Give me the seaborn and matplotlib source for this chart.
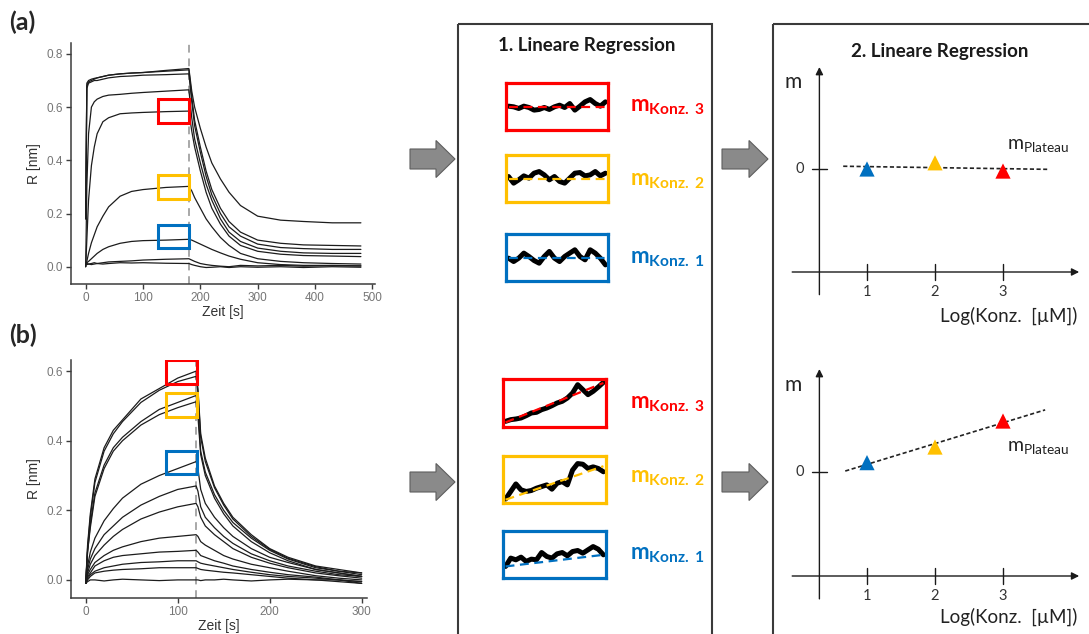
import numpy as np
import pandas as pd
import matplotlib
matplotlib.use("Agg")
import matplotlib.pyplot as plt
from matplotlib import patches
import seaborn as sns

sns.set_theme(style="ticks")
plt.rcParams["font.family"] = ["Lato", "DejaVu Sans"]
plt.rcParams["mathtext.fontset"] = "custom"
plt.rcParams["mathtext.rm"] = "Lato"
plt.rcParams["mathtext.bf"] = "Lato:bold"
plt.rcParams["mathtext.it"] = "Lato:italic"

RED, YEL, BLU = "#FF0000", "#FFC000", "#0070C0"

# ---- (a) sensorgram: association 0-180 s, dissociation 180-480 s
time_a = [0, 2, 5, 10, 15, 20, 30, 40, 60, 80, 100, 140, 180,
          185, 190, 200, 210, 220, 235, 250, 270, 300, 340, 380, 430, 480]
resp_a = [
    [0.18, 0.69, 0.70, 0.705, 0.708, 0.71, 0.715, 0.72, 0.725, 0.728, 0.73, 0.738, 0.745,
     0.66, 0.60, 0.52, 0.45, 0.39, 0.33, 0.28, 0.23, 0.19, 0.175, 0.17, 0.165, 0.165],
    [0.18, 0.68, 0.695, 0.70, 0.705, 0.71, 0.715, 0.72, 0.725, 0.728, 0.73, 0.735, 0.74,
     0.64, 0.55, 0.45, 0.36, 0.29, 0.22, 0.17, 0.13, 0.10, 0.088, 0.082, 0.08, 0.078],
    [0.18, 0.67, 0.69, 0.695, 0.70, 0.70, 0.705, 0.71, 0.715, 0.717, 0.72, 0.722, 0.725,
     0.62, 0.53, 0.43, 0.34, 0.27, 0.20, 0.15, 0.115, 0.085, 0.072, 0.068, 0.065, 0.065],
    [0.0, 0.30, 0.50, 0.60, 0.62, 0.63, 0.64, 0.645, 0.648, 0.652, 0.655, 0.66, 0.665,
     0.56, 0.48, 0.39, 0.31, 0.25, 0.18, 0.13, 0.095, 0.07, 0.058, 0.052, 0.05, 0.05],
    [0.0, 0.10, 0.25, 0.38, 0.45, 0.50, 0.545, 0.56, 0.575, 0.578, 0.58, 0.583, 0.585,
     0.51, 0.45, 0.36, 0.28, 0.22, 0.16, 0.115, 0.08, 0.058, 0.047, 0.042, 0.04, 0.038],
    [0.0, 0.02, 0.05, 0.09, 0.12, 0.15, 0.19, 0.225, 0.265, 0.283, 0.29, 0.298, 0.302,
     0.285, 0.26, 0.22, 0.18, 0.15, 0.11, 0.08, 0.05, 0.03, 0.02, 0.015, 0.012, 0.01],
    [0.01, 0.015, 0.02, 0.03, 0.04, 0.05, 0.065, 0.075, 0.088, 0.095, 0.098, 0.10, 0.103,
     0.10, 0.095, 0.085, 0.075, 0.065, 0.052, 0.04, 0.028, 0.015, 0.008, 0.005, 0.005, 0.003],
    [0.01, 0.012, 0.01, 0.012, 0.015, 0.012, 0.015, 0.018, 0.02, 0.022, 0.025, 0.028, 0.03,
     0.025, 0.02, 0.012, 0.008, 0.005, 0.002, 0.0, 0.005, 0.003, 0.005, 0.002, 0.004, 0.003],
    [0.01, 0.008, 0.01, 0.008, 0.01, 0.012, 0.01, 0.012, 0.015, 0.014, 0.015, 0.013, 0.012,
     0.008, 0.005, 0.0, -0.003, -0.002, 0.0, -0.003, 0.0, -0.002, 0.0, -0.003, 0.0, -0.002],
]
inject_end_a = 180
boxes_a = [(126, 180, 0.54, 0.63), (126, 180, 0.255, 0.345), (126, 180, 0.07, 0.155)]

# ---- (b) sensorgram: association 0-120 s, dissociation 120-300 s
time_b = [0, 2, 5, 10, 20, 30, 40, 60, 80, 100, 120,
          122, 125, 130, 140, 150, 160, 180, 200, 220, 250, 275, 300]
resp_b = [
    [-0.01, 0.10, 0.19, 0.29, 0.38, 0.43, 0.46, 0.52, 0.55, 0.58, 0.60,
     0.55, 0.42, 0.35, 0.27, 0.22, 0.18, 0.13, 0.09, 0.065, 0.04, 0.03, 0.02],
    [-0.01, 0.09, 0.18, 0.28, 0.37, 0.42, 0.455, 0.51, 0.545, 0.57, 0.585,
     0.54, 0.41, 0.34, 0.265, 0.215, 0.175, 0.125, 0.088, 0.062, 0.038, 0.025, 0.015],
    [-0.01, 0.08, 0.16, 0.25, 0.33, 0.38, 0.41, 0.455, 0.49, 0.51, 0.53,
     0.49, 0.37, 0.31, 0.245, 0.20, 0.165, 0.12, 0.085, 0.06, 0.035, 0.025, 0.02],
    [-0.01, 0.08, 0.15, 0.24, 0.32, 0.37, 0.40, 0.445, 0.475, 0.495, 0.512,
     0.47, 0.36, 0.30, 0.235, 0.19, 0.155, 0.11, 0.078, 0.055, 0.03, 0.02, 0.01],
    [-0.01, 0.04, 0.08, 0.12, 0.17, 0.205, 0.235, 0.275, 0.30, 0.32, 0.34,
     0.32, 0.26, 0.22, 0.18, 0.15, 0.125, 0.09, 0.065, 0.05, 0.03, 0.02, 0.01],
    [-0.01, 0.03, 0.06, 0.09, 0.13, 0.155, 0.18, 0.215, 0.24, 0.26, 0.27,
     0.255, 0.21, 0.18, 0.15, 0.125, 0.105, 0.075, 0.055, 0.04, 0.025, 0.015, 0.01],
    [-0.01, 0.02, 0.045, 0.07, 0.10, 0.125, 0.145, 0.175, 0.195, 0.21, 0.22,
     0.21, 0.18, 0.155, 0.13, 0.11, 0.09, 0.065, 0.048, 0.035, 0.02, 0.012, 0.005],
    [-0.01, 0.015, 0.03, 0.05, 0.07, 0.085, 0.095, 0.11, 0.12, 0.125, 0.13,
     0.125, 0.11, 0.10, 0.085, 0.07, 0.06, 0.045, 0.035, 0.025, 0.012, 0.005, 0.0],
    [-0.01, 0.01, 0.02, 0.04, 0.055, 0.065, 0.07, 0.075, 0.08, 0.082, 0.085,
     0.08, 0.07, 0.065, 0.055, 0.048, 0.04, 0.03, 0.022, 0.015, 0.008, 0.0, -0.005],
    [-0.01, 0.005, 0.015, 0.025, 0.035, 0.04, 0.045, 0.05, 0.052, 0.055, 0.055,
     0.052, 0.048, 0.045, 0.04, 0.035, 0.03, 0.022, 0.015, 0.01, 0.005, 0.0, -0.01],
    [-0.01, 0.0, 0.01, 0.02, 0.025, 0.028, 0.03, 0.032, 0.035, 0.035, 0.035,
     0.033, 0.03, 0.028, 0.025, 0.022, 0.02, 0.015, 0.01, 0.005, 0.0, -0.005, -0.01],
    [-0.01, -0.005, 0.0, 0.0, -0.003, 0.0, 0.002, 0.0, -0.002, 0.0, 0.0,
     0.0, -0.002, 0.0, 0.0, 0.002, 0.0, -0.003, 0.0, 0.002, 0.0, 0.0, -0.005],
]
inject_end_b = 120
boxes_b = [(87, 121, 0.563, 0.632), (87, 121, 0.467, 0.536), (87, 121, 0.304, 0.371)]

# ---- zoomed windows (relative signal inside each box) and their fit lines
trace_a3 = [0.507, 0.493, 0.458, 0.507, 0.479, 0.423, 0.437, 0.479, 0.437, 0.493,
            0.528, 0.479, 0.563, 0.423, 0.507, 0.599, 0.648, 0.563, 0.507, 0.599]
trace_a2 = [0.542, 0.401, 0.472, 0.556, 0.507, 0.613, 0.648, 0.577, 0.472, 0.542,
            0.437, 0.401, 0.507, 0.613, 0.627, 0.556, 0.577, 0.648, 0.556, 0.613]
trace_a1 = [0.486, 0.414, 0.486, 0.593, 0.521, 0.436, 0.379, 0.521, 0.629, 0.486,
            0.414, 0.521, 0.593, 0.664, 0.521, 0.450, 0.664, 0.593, 0.486, 0.343]
trace_b3 = [0.118, 0.153, 0.167, 0.188, 0.236, 0.292, 0.306, 0.361, 0.396, 0.444,
            0.500, 0.535, 0.604, 0.708, 0.882, 0.778, 0.674, 0.743, 0.833, 0.931]
trace_b2 = [0.084, 0.245, 0.406, 0.280, 0.245, 0.266, 0.315, 0.350, 0.385, 0.294,
            0.420, 0.455, 0.385, 0.699, 0.839, 0.825, 0.734, 0.769, 0.734, 0.664]
trace_b1 = [0.246, 0.423, 0.387, 0.444, 0.352, 0.401, 0.387, 0.542, 0.458, 0.423,
            0.514, 0.542, 0.472, 0.563, 0.585, 0.528, 0.599, 0.669, 0.613, 0.493]
fit_a3, fit_a2, fit_a1 = [0.493, 0.493], [0.486, 0.486], [0.486, 0.486]
fit_b3, fit_b2, fit_b1 = [0.097, 0.917], [0.07, 0.783], [0.246, 0.493]

# ---- second regression: slope m vs. log concentration
log_conc = [1, 2, 3]
conc_names = ["Konz. 1", "Konz. 2", "Konz. 3"]
m_top = [0.0, 0.06, -0.02]
m_bottom = [0.09, 0.24, 0.49]
fit_span_top = [0.65, 3.65]
fit_span_bottom = [0.68, 3.62]

W, H = 1089, 634
fig = plt.figure(figsize=(W / 100, H / 100), dpi=100)


def px_axes(x0, y0, x1, y1):
    return fig.add_axes([x0 / W, 1 - y1 / H, (x1 - x0) / W, (y1 - y0) / H])


def sensorgram(box, time, curves, xlim, ylim, xticks, yticks, t_end, rects):
    ax = px_axes(*box)
    df = pd.DataFrame({"t": np.tile(time, len(curves)),
                       "R": np.concatenate(curves),
                       "curve": np.repeat(np.arange(len(curves)), len(time))})
    sns.lineplot(data=df, x="t", y="R", units="curve", estimator=None,
                 color="#1c1c1c", lw=0.9, ax=ax)
    ax.axvline(t_end, color="#a8a8a8", ls=(0, (4, 3)), lw=1.4, zorder=0)
    for (t0, t1, r0, r1), col in zip(rects, [RED, YEL, BLU]):
        ax.add_patch(patches.Rectangle((t0, r0), t1 - t0, r1 - r0, fill=False,
                                       ec=col, lw=2.2, zorder=5))
    ax.set_xlim(*xlim)
    ax.set_ylim(*ylim)
    ax.set_xticks(xticks)
    ax.set_yticks(yticks)
    ax.set_yticklabels([f"{v:.1f}" for v in yticks])
    sns.despine(ax=ax)
    for s in ("left", "bottom"):
        ax.spines[s].set_color("#3c3c3c")
        ax.spines[s].set_linewidth(1.1)
    ax.tick_params(colors="#3c3c3c", labelcolor="#757575", labelsize=8.5,
                   length=3.5, width=1, pad=2, labelfontfamily="Liberation Sans")
    ax.set_xlabel("Zeit [s]", fontsize=10, color="#333333", labelpad=1,
                  family="Liberation Sans")
    ax.set_ylabel("R [nm]", fontsize=10, color="#333333", labelpad=4,
                  family="Liberation Sans")
    return ax


sensorgram((71, 43, 375, 284), time_a, resp_a, (-25.6, 504.6), (-0.065, 0.841),
           [0, 100, 200, 300, 400, 500], [0.0, 0.2, 0.4, 0.6, 0.8], inject_end_a, boxes_a)
sensorgram((71, 360, 367, 598), time_b, resp_b, (-16, 305.8), (-0.052, 0.632),
           [0, 100, 200, 300], [0.0, 0.2, 0.4, 0.6], inject_end_b, boxes_b)


def trace_box(box, trace, fit, col):
    ax = px_axes(*box)
    n = len(trace)
    sns.lineplot(x=np.arange(n), y=trace, color="black", lw=3.6, ax=ax)
    sns.lineplot(x=[0, n - 1], y=fit, color=col, lw=1.6, ls=(0, (4, 2.5)), ax=ax)
    ax.set_xlim(-0.5, n - 0.5)
    ax.set_ylim(0, 1)
    ax.set_xticks([])
    ax.set_yticks([])
    for s in ax.spines.values():
        s.set_visible(True)
        s.set_color(col)
        s.set_linewidth(2.3)


trace_box((506, 83, 608, 130), trace_a3, fit_a3, RED)
trace_box((506, 155, 608, 202), trace_a2, fit_a2, YEL)
trace_box((506, 234, 608, 281), trace_a1, fit_a1, BLU)
trace_box((503, 379, 606, 427), trace_b3, fit_b3, RED)
trace_box((503, 456, 606, 503), trace_b2, fit_b2, YEL)
trace_box((503, 531, 606, 578), trace_b1, fit_b1, BLU)


def scheme(box, y0px, sy, m_vals, span):
    x0px, sx = 799, 68
    ax = px_axes(*box)
    ax.axis("off")
    ax.set_xlim((box[0] - x0px) / sx, (box[2] - x0px) / sx)
    ax.set_ylim((y0px - box[3]) / sy, (y0px - box[1]) / sy)
    arrow = dict(arrowstyle="-|>", color="#1a1a1a", lw=1.0, mutation_scale=11,
                 shrinkA=0, shrinkB=0)
    ax.annotate("", xy=(0.3, 0.99), xytext=(0.3, -1.22), arrowprops=arrow)
    ax.annotate("", xy=(4.12, -1.0), xytext=(-0.1, -1.0), arrowprops=arrow)
    for x in log_conc:
        ax.plot([x, x], [-0.92, -1.08], color="#1a1a1a", lw=1.0)
        ax.text(x, -1.19, str(x), ha="center", va="center", fontsize=10.5, color="#333333")
    ax.plot([0.19, 0.41], [0, 0], color="#1a1a1a", lw=1.0)
    ax.text(0.01, 0, "0", ha="center", va="center", fontsize=10.5, color="#333333")
    ax.text(-0.09, 0.84, "m", ha="center", va="center", fontsize=15, color="#222222")
    coef = np.polyfit(log_conc, m_vals, 1)
    fx = np.array(span)
    sns.lineplot(x=fx, y=np.polyval(coef, fx), color="#222222", lw=1.2,
                 ls=(0, (2.5, 1.5)), ax=ax)
    sns.scatterplot(x=log_conc, y=m_vals, hue=conc_names, palette=[BLU, YEL, RED],
                    marker="^", s=120, linewidth=0, legend=False, zorder=3, ax=ax)
    return ax


scheme((776, 60, 1089, 312), 169, 103, m_top, fit_span_top)
scheme((776, 360, 1089, 634), 472, 104, m_bottom, fit_span_bottom)

# ---- overlay: frames, arrows and free text in pixel coordinates
ov = px_axes(0, 0, W, H)
ov.set_xlim(0, W)
ov.set_ylim(H, 0)
ov.axis("off")
for x0, wdt in [(458, 254), (773, 340)]:
    ov.add_patch(patches.Rectangle((x0, 24), wdt, 640, fill=False, ec="#3a3a3a",
                                   lw=1.5, clip_on=False))
for x0, length, yc in [(410, 45, 159), (722, 46, 159), (410, 45, 482), (722, 46, 482)]:
    ov.add_patch(patches.FancyArrow(x0, yc, length, 0, width=20, head_width=37,
                                    head_length=19, length_includes_head=True,
                                    fc="#8a8a8a", ec="#5e5e5e", lw=0.8))
ov.text(9, 22, "(a)", fontsize=18, weight="bold", va="center", ha="left")
ov.text(9, 335, "(b)", fontsize=18, weight="bold", va="center", ha="left")
ov.text(587, 46, "1. Lineare Regression", fontsize=13.5, weight="bold",
        ha="center", va="center", color="#1a1a1a")
ov.text(940, 52, "2. Lineare Regression", fontsize=13.5, weight="bold",
        ha="center", va="center", color="#1a1a1a")
for yc, name, col in [(107, "Konz. 3", RED), (181, "Konz. 2", YEL), (259, "Konz. 1", BLU),
                      (404, "Konz. 3", RED), (478, "Konz. 2", YEL), (555, "Konz. 1", BLU)]:
    ov.text(630, yc, r"$\mathbf{m}_{\mathbf{" + name.replace(" ", r"\ ") + "}}$",
            fontsize=16, color=col, ha="left", va="center")
for yc in (146, 448):
    ov.text(1007, yc, r"$\mathrm{m}_{\mathrm{Plateau}}$", fontsize=14,
            color="#222222", ha="left", va="center")
for yc in (316, 617):
    ov.text(940, yc, "Log(Konz.  [µM])", fontsize=13.5, color="#222222",
            ha="left", va="center")

fig.savefig("out.png", dpi=100)
